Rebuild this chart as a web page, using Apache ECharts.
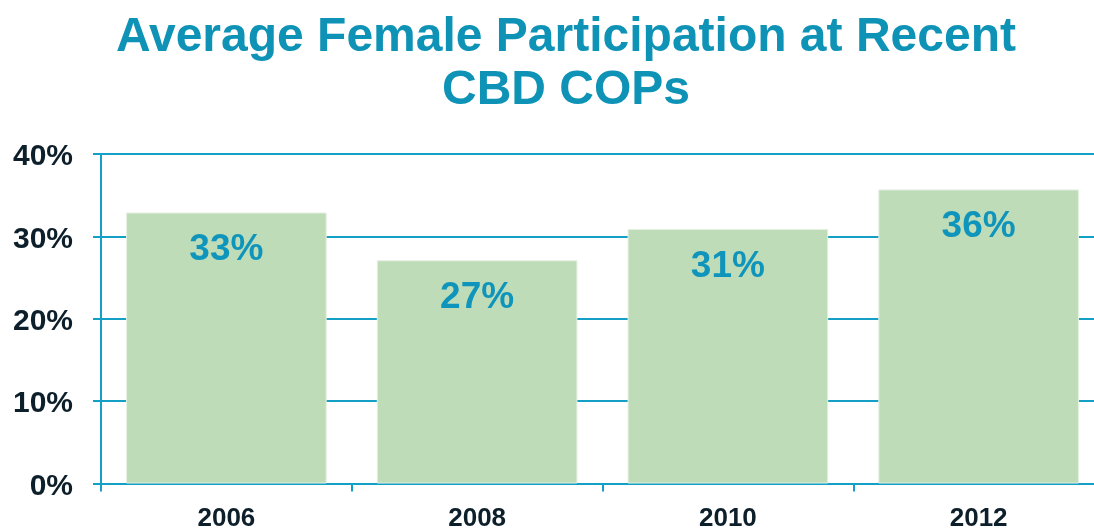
<!DOCTYPE html>
<html>
<head>
<meta charset="utf-8">
<script src="https://cdn.jsdelivr.net/npm/echarts@6/dist/echarts.min.js"></script>
<style>
  html, body { margin: 0; padding: 0; background: #fff; }
  #chart { width: 1094px; height: 529px; }
</style>
</head>
<body>
<div id="chart"></div>
<script>
// values
const years = ['2006', '2008', '2010', '2012'];
const participation = [32.9, 27.1, 30.9, 35.7];
const yTicks = [0, 10, 20, 30, 40];

const teal = '#14a0c6';
const font = '"Liberation Sans", Arial, sans-serif';

const myChart = echarts.init(document.getElementById('chart'));
const option = {
  backgroundColor: '#fff',
  title: {
    text: 'Average Female Participation at Recent\nCBD COPs',
    left: 566,
    top: 11,
    textAlign: 'center',
    padding: 0,
    textStyle: {
      color: '#0e93b7',
      fontFamily: font,
      fontWeight: 'bold',
      fontSize: 48,
      lineHeight: 53
    }
  },
  grid: {
    left: 101,
    right: -10,
    top: 154,
    bottom: 45.5,
    containLabel: false,
    outerBoundsMode: 'none'
  },
  xAxis: {
    type: 'category',
    data: years,
    axisLine: { lineStyle: { color: teal, width: 2 } },
    axisTick: { show: true, length: 8, lineStyle: { color: teal, width: 2 } },
    axisLabel: {
      color: '#0d1f2a',
      fontFamily: font,
      fontWeight: 'bold',
      fontSize: 26,
      margin: 22
    }
  },
  yAxis: {
    type: 'value',
    min: yTicks[0],
    max: yTicks[yTicks.length - 1],
    interval: 10,
    axisLine: { show: true, lineStyle: { color: teal, width: 2 } },
    axisTick: { show: true, length: 8, lineStyle: { color: teal, width: 2 } },
    splitLine: { lineStyle: { color: teal, width: 2 } },
    axisLabel: {
      color: '#0d1f2a',
      fontFamily: font,
      fontWeight: 'bold',
      fontSize: 30,
      margin: 28,
      verticalAlign: 'top',
      lineHeight: 6,
      formatter: v => v + '%'
    }
  },
  series: [
    {
      type: 'bar',
      data: participation,
      barCategoryGap: '20%',
      itemStyle: { color: '#bfdcb8', borderColor: '#e4f0e0', borderWidth: 1 },
      label: {
        show: true,
        position: 'insideTop',
        distance: 19,
        color: '#0f95bb',
        fontFamily: font,
        fontWeight: 'bold',
        fontSize: 37,
        formatter: p => Math.round(p.value) + '%'
      }
    }
  ]
};
myChart.setOption(option);
window.addEventListener('resize', () => myChart.resize());
</script>
</body>
</html>
